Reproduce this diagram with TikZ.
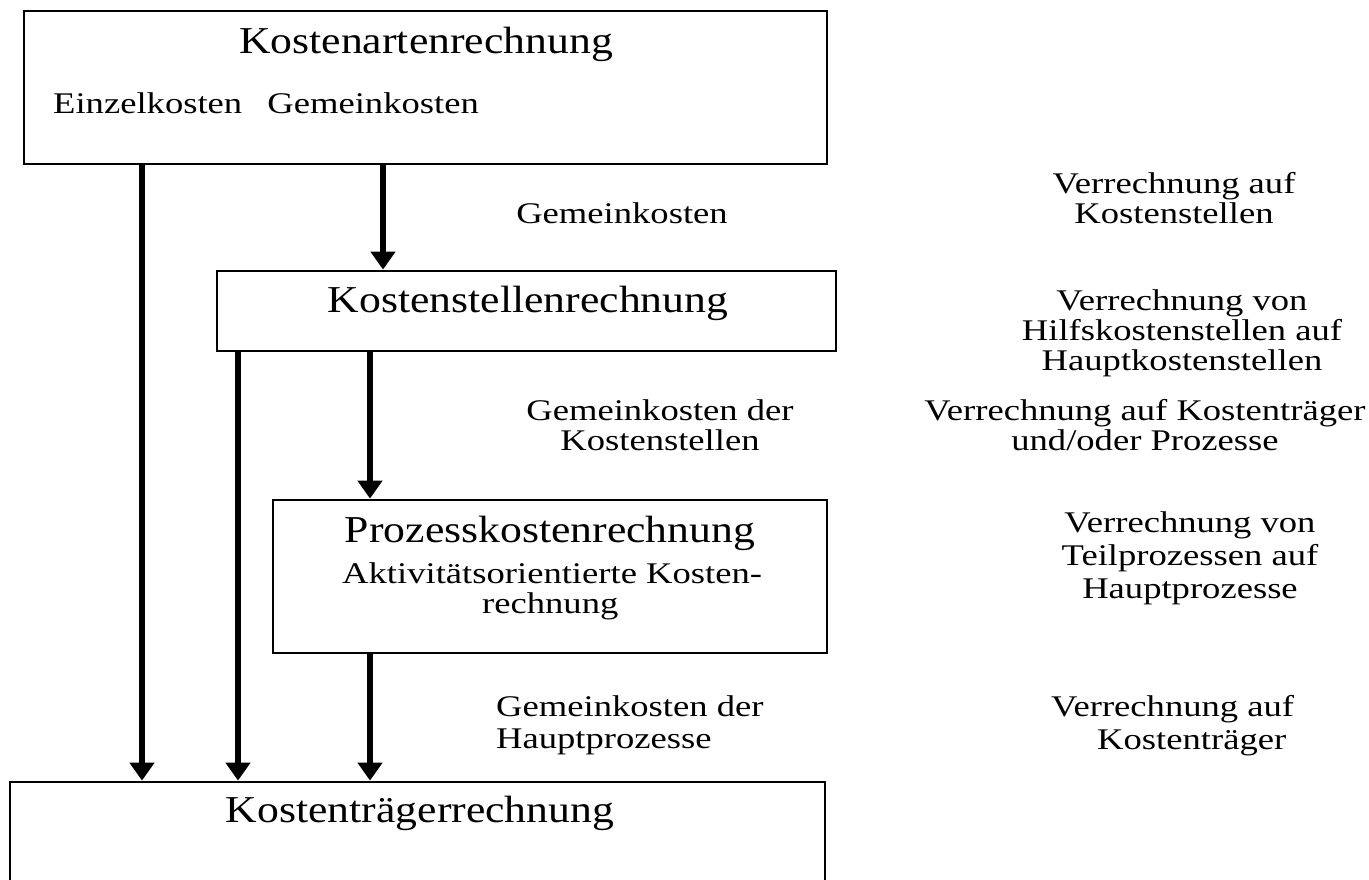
\documentclass[tikz,border=0pt]{standalone}
\usepackage{fontspec}
\setmainfont{Liberation Serif}
\newfontfamily\lblfont[FakeStretch=1.22]{Liberation Serif}
\newfontfamily\ttlfont[FakeStretch=1.15]{Liberation Serif}
\usetikzlibrary{arrows.meta}
\begin{document}
\begin{tikzpicture}[x=1pt,y=-1pt,
  box/.style={draw, line width=2.8pt, inner sep=0pt, rectangle},
  lbl/.style={font=\lblfont\fontsize{30}{30}\selectfont, inner sep=0pt, anchor=base},
  ttl/.style={font=\ttlfont\fontsize{38}{40}\selectfont, inner sep=0pt, anchor=base},
  flow/.style={line width=6pt, -{Triangle[width=24pt,length=18pt]}}]
\useasboundingbox[fill=white] (0,0) rectangle (1369,879);
% boxes
\node[box, minimum width=803pt, minimum height=153pt] (b1) at (425.5,87.5) {};
\node[box, minimum width=619pt, minimum height=80pt] (b2) at (526.5,311) {};
\node[box, minimum width=554pt, minimum height=153pt] (b3) at (550,576.5) {};
\node[box, minimum width=815pt, minimum height=118pt] (b4) at (417.5,841) {};
% titles inside boxes
\node[ttl] (t1) at (426,53) {Kostenartenrechnung};
\node[lbl, anchor=base west] (e1) at (53,113) {Einzelkosten\hspace{16pt} Gemeinkosten};
\node[ttl] (t2) at (528,312) {Kostenstellenrechnung};
\node[ttl] (t3) at (550,542) {Prozesskostenrechnung};
\node[lbl, anchor=base west] (a3) at (342,583) {\begin{tabular}[t]{@{}l@{}}Aktivitätsorientierte Kosten-\\\hspace{140pt}rechnung\end{tabular}};
\node[ttl] (t4) at (420,822) {Kostenträgerrechnung};
% labels between boxes
\node[lbl] (m1) at (622,223) {Gemeinkosten};
\node[lbl] (m2) at (660,420) {\begin{tabular}[t]{@{}c@{}}Gemeinkosten der\\Kostenstellen\end{tabular}};
\node[lbl, anchor=base west] (m3) at (496,716) {\begin{tabular}[t]{@{}l@{}}Gemeinkosten der\\[2pt]Hauptprozesse\end{tabular}};
% right column
\node[lbl] (r1) at (1174,193) {\begin{tabular}[t]{@{}c@{}}Verrechnung auf\\Kostenstellen\end{tabular}};
\node[lbl] (r2) at (1182,310) {\begin{tabular}[t]{@{}c@{}}Verrechnung von\\Hilfskostenstellen auf\\Hauptkostenstellen\end{tabular}};
\node[lbl] (r3) at (1145,420) {\begin{tabular}[t]{@{}c@{}}Verrechnung auf Kostenträger\\und/oder Prozesse\end{tabular}};
\node[lbl] (r4) at (1190,532) {\begin{tabular}[t]{@{}c@{}}Verrechnung von\\[3pt]Teilprozessen auf\\[3pt]Hauptprozesse\end{tabular}};
\node[lbl, anchor=base west] (r5) at (1051,716) {\begin{tabular}[t]{@{}l@{}}Verrechnung auf\\[3pt]\hspace{46pt}Kostenträger\end{tabular}};
% arrow columns
\coordinate (xa) at (142,0);
\coordinate (xb) at (383,0);
\coordinate (xc) at (238,0);
\coordinate (xd) at (370,0);
\draw[flow] (b1.south -| xa) -- (b4.north -| xa);
\draw[flow] (b1.south -| xb) -- (b2.north -| xb);
\draw[flow] (b2.south -| xc) -- (b4.north -| xc);
\draw[flow] (b2.south -| xd) -- (b3.north -| xd);
\draw[flow] (b3.south -| xd) -- (b4.north -| xd);
\end{tikzpicture}
\end{document}
